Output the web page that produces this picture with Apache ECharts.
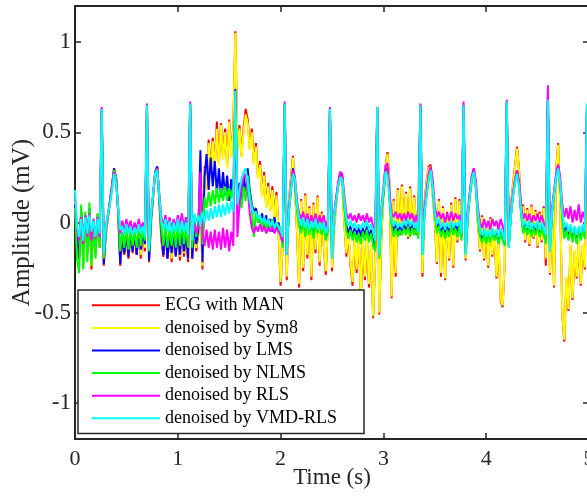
<!DOCTYPE html>
<html><head><meta charset="utf-8">
<script src="https://cdn.jsdelivr.net/npm/echarts@6/dist/echarts.min.js"></script>
<style>html,body{margin:0;padding:0;background:#fff}#chart{width:587px;height:496px}</style>
</head><body><div id="chart"></div>
<script>
// sampling interval of the recordings (s)
const sampleInterval = 0.02;

const seriesNames = ['ECG with MAN','denoised by Sym8','denoised by LMS','denoised by NLMS','denoised by RLS','denoised by VMD-RLS'];
const seriesColors = ['#ff0000','#ffff00','#0000ff','#00ff00','#ff00ff','#00ffff'];

// amplitude (mV), one value per sample, 0 s .. 5 s
const ecgWithMAN = [
0.13,-0.12,-0.20,0.06,-0.24,0.03,-0.17,0.07,-0.26,-0.03,
-0.18,0.05,-0.14,0.62,-0.24,-0.07,0.02,0.12,0.21,0.30,
0.25,0.05,-0.24,-0.09,-0.18,-0.05,-0.20,-0.07,-0.17,-0.04,
-0.18,-0.05,-0.20,-0.06,-0.16,0.64,-0.22,0.00,0.14,0.28,
0.31,0.12,-0.10,-0.19,-0.03,-0.20,-0.06,-0.22,-0.04,-0.18,
-0.05,-0.21,-0.03,-0.19,-0.06,-0.22,0.66,-0.20,-0.03,-0.16,
-0.06,0.13,-0.26,0.31,0.19,0.46,0.29,0.47,0.31,0.56,
0.33,0.55,0.36,0.52,0.31,0.57,0.37,0.54,1.06,0.41,
0.54,0.37,0.52,0.63,0.57,0.41,0.52,0.33,0.44,0.25,
0.34,0.15,0.28,0.09,0.22,0.07,0.20,0.03,0.17,-0.05,
-0.35,-0.13,0.66,-0.32,0.11,0.24,0.37,0.21,-0.06,-0.36,
0.13,-0.27,0.16,-0.20,0.09,-0.32,0.11,-0.17,0.15,-0.24,
0.06,-0.13,-0.29,0.00,0.62,-0.27,-0.03,0.10,0.21,0.28,
0.23,0.00,-0.19,-0.06,-0.24,-0.35,-0.09,-0.28,-0.07,-0.42,
-0.11,-0.32,-0.09,-0.36,-0.13,-0.53,-0.21,0.62,-0.51,-0.09,
0.16,0.31,0.39,0.21,-0.42,0.13,-0.30,0.19,-0.07,0.21,
-0.05,0.17,-0.09,0.20,-0.03,0.15,-0.07,0.11,0.63,-0.30,
0.11,0.23,0.31,0.32,0.15,0.01,-0.23,0.13,-0.30,0.09,
-0.32,0.06,-0.21,0.11,-0.25,0.14,-0.11,0.13,-0.06,0.64,
-0.21,0.02,0.15,0.25,0.30,0.19,-0.01,-0.16,0.04,-0.21,
-0.03,-0.25,0.03,-0.19,-0.05,-0.31,-0.11,-0.43,-0.47,-0.23,
0.66,-0.13,0.09,0.21,0.31,0.42,0.29,0.06,0.10,-0.11,
0.08,-0.13,0.10,-0.09,0.07,-0.14,0.06,-0.11,0.09,-0.24,
0.66,-0.29,0.06,-0.36,0.29,0.44,0.11,-0.51,-0.66,-0.31,
-0.49,-0.13,-0.43,-0.16,-0.31,-0.11,-0.35,-0.13,-0.26,0.60,
0.15];

const denoisedSym8 = [
0.12,-0.10,-0.18,0.05,-0.22,0.02,-0.15,0.06,-0.24,-0.02,
-0.16,0.04,-0.12,0.62,-0.22,-0.06,0.02,0.12,0.20,0.29,
0.24,0.05,-0.22,-0.08,-0.16,-0.04,-0.18,-0.06,-0.15,-0.03,
-0.16,-0.04,-0.18,-0.05,-0.14,0.64,-0.20,0.00,0.14,0.27,
0.30,0.12,-0.08,-0.17,-0.02,-0.18,-0.05,-0.20,-0.03,-0.16,
-0.04,-0.19,-0.02,-0.17,-0.05,-0.20,0.66,-0.18,-0.02,-0.14,
-0.05,0.12,-0.24,0.30,0.18,0.44,0.28,0.45,0.30,0.52,
0.32,0.54,0.35,0.50,0.30,0.56,0.36,0.52,1.05,0.40,
0.52,0.36,0.50,0.60,0.55,0.40,0.50,0.32,0.42,0.24,
0.32,0.14,0.26,0.08,0.20,0.06,0.18,0.02,0.15,-0.04,
-0.33,-0.12,0.66,-0.30,0.10,0.22,0.36,0.20,-0.05,-0.34,
0.12,-0.25,0.15,-0.18,0.08,-0.30,0.10,-0.15,0.14,-0.22,
0.05,-0.12,-0.27,0.00,0.62,-0.25,-0.02,0.10,0.20,0.27,
0.22,0.00,-0.17,-0.05,-0.22,-0.33,-0.08,-0.26,-0.06,-0.41,
-0.10,-0.30,-0.08,-0.34,-0.12,-0.52,-0.20,0.62,-0.50,-0.08,
0.15,0.30,0.38,0.20,-0.41,0.12,-0.28,0.18,-0.06,0.20,
-0.04,0.16,-0.08,0.19,-0.02,0.14,-0.06,0.10,0.63,-0.28,
0.10,0.22,0.30,0.31,0.14,0.02,-0.22,0.12,-0.28,0.08,
-0.31,0.05,-0.20,0.10,-0.24,0.13,-0.10,0.12,-0.05,0.64,
-0.20,0.02,0.14,0.24,0.29,0.18,0.00,-0.15,0.03,-0.20,
-0.02,-0.24,0.02,-0.18,-0.04,-0.30,-0.10,-0.42,-0.46,-0.22,
0.66,-0.12,0.08,0.20,0.30,0.41,0.28,0.05,0.09,-0.10,
0.07,-0.12,0.09,-0.08,0.06,-0.13,0.05,-0.10,0.08,-0.20,
0.66,-0.28,0.05,-0.35,0.28,0.43,0.10,-0.50,-0.65,-0.30,
-0.48,-0.12,-0.42,-0.15,-0.30,-0.10,-0.34,-0.12,-0.25,0.60,
0.15];

const denoisedLMS = [
0.10,-0.08,-0.20,0.06,-0.16,0.04,-0.12,0.08,-0.20,0.00,
-0.14,0.03,-0.10,0.63,-0.23,-0.04,0.04,0.12,0.20,0.30,
0.24,0.06,-0.23,-0.06,-0.17,-0.05,-0.19,-0.04,-0.16,-0.06,
-0.18,-0.03,-0.15,-0.06,-0.12,0.65,-0.21,0.02,0.15,0.28,
0.31,0.13,-0.06,-0.18,-0.03,-0.20,-0.06,-0.17,-0.04,-0.19,
-0.05,-0.18,-0.03,-0.16,-0.06,-0.20,0.66,-0.20,0.00,-0.12,
-0.04,0.40,-0.22,0.25,0.38,0.18,0.36,0.20,0.34,0.16,
0.30,0.14,0.28,0.15,0.26,0.12,0.24,0.14,0.74,0.10,
0.22,0.10,0.26,0.14,0.30,0.18,0.10,0.06,0.08,0.02,
0.00,0.05,-0.02,0.04,-0.04,0.02,-0.05,0.03,-0.03,0.00,
-0.06,-0.12,0.66,-0.18,0.06,0.18,0.30,0.22,0.08,0.00,
-0.04,0.04,-0.06,0.02,-0.05,0.03,-0.07,0.01,-0.04,0.02,
-0.06,0.00,-0.08,-0.04,0.63,-0.18,0.03,0.13,0.21,0.27,
0.25,0.10,-0.02,-0.06,-0.02,-0.08,-0.03,-0.07,-0.02,-0.08,
-0.03,-0.07,-0.02,-0.08,-0.04,-0.10,-0.14,0.64,-0.18,0.04,
0.16,0.28,0.30,0.14,0.00,-0.05,-0.01,-0.06,-0.02,-0.05,
-0.01,-0.04,0.00,-0.05,-0.01,-0.04,0.00,-0.06,0.65,-0.16,
0.06,0.16,0.25,0.30,0.20,0.05,-0.03,0.00,-0.05,-0.02,
-0.06,-0.02,-0.05,0.00,-0.04,-0.01,-0.05,0.00,-0.08,0.65,
-0.16,0.04,0.15,0.24,0.29,0.20,0.04,-0.06,-0.09,-0.04,
-0.10,-0.05,-0.09,-0.04,-0.08,-0.05,-0.10,-0.04,-0.08,-0.12,
0.67,-0.13,0.04,0.15,0.23,0.29,0.21,0.05,-0.04,0.00,
-0.05,0.00,-0.06,-0.01,-0.05,0.00,-0.06,-0.01,-0.05,-0.10,
0.70,-0.14,0.05,0.16,0.26,0.32,0.22,0.04,-0.06,-0.02,
-0.07,-0.02,-0.08,-0.03,-0.09,-0.03,-0.08,-0.02,-0.06,0.65,
0.15];

const denoisedNLMS = [
0.08,-0.20,-0.28,0.10,-0.26,0.06,-0.22,0.11,-0.24,0.02,
-0.20,0.05,-0.14,0.63,-0.20,-0.05,0.03,0.11,0.19,0.29,
0.25,0.07,-0.16,-0.05,-0.14,-0.03,-0.15,-0.04,-0.13,-0.05,
-0.14,-0.02,-0.13,-0.04,-0.10,0.65,-0.16,0.03,0.15,0.28,
0.30,0.14,-0.03,-0.13,-0.01,-0.14,-0.04,-0.13,-0.02,-0.14,
-0.02,-0.13,0.00,-0.12,-0.03,-0.14,0.66,-0.14,0.03,-0.08,
0.02,0.18,-0.12,0.14,0.08,0.17,0.09,0.18,0.10,0.19,
0.11,0.19,0.12,0.20,0.12,0.19,0.13,0.20,0.72,0.12,
0.16,0.08,0.20,0.12,0.26,0.16,0.08,-0.08,0.06,0.00,
0.02,-0.04,0.03,-0.06,0.01,-0.03,0.02,-0.05,0.00,-0.03,
-0.06,-0.14,0.66,-0.16,0.05,0.17,0.28,0.22,0.06,-0.02,
-0.06,0.02,-0.08,0.01,-0.07,0.00,-0.09,-0.01,-0.06,0.01,
-0.07,-0.02,-0.10,-0.05,0.63,-0.20,0.02,0.12,0.20,0.26,
0.24,0.08,-0.05,-0.09,-0.04,-0.10,-0.05,-0.11,-0.06,-0.12,
-0.05,-0.10,-0.04,-0.11,-0.06,-0.13,-0.16,0.64,-0.20,0.03,
0.15,0.27,0.29,0.12,-0.02,-0.08,-0.03,-0.08,-0.04,-0.07,
-0.03,-0.07,-0.02,-0.08,-0.03,-0.07,-0.02,-0.09,0.65,-0.18,
0.05,0.15,0.24,0.29,0.19,0.04,-0.06,-0.02,-0.08,-0.04,
-0.09,-0.04,-0.08,-0.02,-0.07,-0.03,-0.08,-0.02,-0.10,0.65,
-0.17,0.03,0.14,0.23,0.28,0.19,0.03,-0.08,-0.11,-0.06,
-0.12,-0.06,-0.11,-0.05,-0.10,-0.07,-0.12,-0.06,-0.10,-0.13,
0.67,-0.14,0.03,0.14,0.22,0.28,0.21,0.04,-0.06,-0.02,
-0.07,-0.02,-0.08,-0.03,-0.07,-0.02,-0.08,-0.03,-0.07,-0.12,
0.69,-0.16,0.04,0.15,0.25,0.31,0.21,0.02,-0.09,-0.04,
-0.10,-0.04,-0.11,-0.05,-0.12,-0.05,-0.10,-0.04,-0.09,0.65,
0.15];

const denoisedRLS = [
0.15,-0.04,-0.10,0.03,-0.12,0.04,-0.08,0.05,-0.10,0.02,
-0.09,0.03,-0.08,0.64,-0.16,-0.03,0.04,0.11,0.19,0.28,
0.23,0.09,-0.06,0.01,-0.05,0.02,-0.04,0.01,-0.05,0.00,
-0.04,0.02,-0.04,0.00,-0.06,0.66,-0.12,0.05,0.16,0.27,
0.30,0.16,0.03,-0.02,0.04,-0.03,0.03,-0.04,0.02,-0.03,
0.04,-0.02,0.05,-0.03,0.03,-0.05,0.67,-0.08,0.00,-0.06,
-0.02,0.28,-0.06,-0.13,-0.04,-0.14,-0.05,-0.15,-0.04,-0.14,
-0.05,-0.15,-0.03,-0.14,-0.04,-0.16,-0.05,-0.13,0.72,-0.08,
0.10,0.20,0.25,0.27,0.18,0.05,-0.03,-0.06,-0.02,-0.05,
-0.01,-0.05,-0.02,-0.06,-0.03,-0.05,-0.02,-0.06,-0.03,-0.05,
-0.07,-0.11,0.67,-0.14,0.06,0.19,0.29,0.25,0.12,0.05,
0.02,0.06,0.00,0.05,-0.01,0.04,0.00,0.05,-0.01,0.04,
0.00,0.04,-0.03,0.02,0.64,-0.14,0.05,0.14,0.22,0.28,
0.27,0.15,0.05,0.02,0.05,0.01,0.04,0.00,0.05,0.01,
0.04,0.00,0.05,0.00,0.03,-0.02,-0.04,0.64,-0.12,0.08,
0.20,0.31,0.33,0.16,0.05,0.03,0.06,0.02,0.05,0.01,
0.05,0.01,0.06,0.02,0.05,0.00,0.04,-0.02,0.66,-0.08,
0.08,0.18,0.27,0.31,0.24,0.09,0.03,0.06,0.02,0.05,
0.00,0.05,0.01,0.06,0.01,0.05,0.02,0.04,-0.03,0.67,
-0.08,0.06,0.17,0.26,0.30,0.23,0.08,0.00,-0.03,0.02,
-0.03,0.01,-0.04,0.02,-0.02,0.01,-0.04,0.02,-0.02,-0.06,
0.68,-0.06,0.06,0.16,0.24,0.29,0.23,0.09,0.02,0.05,
0.01,0.05,0.00,0.04,0.01,0.05,0.00,0.04,0.00,-0.03,
0.76,-0.06,0.08,0.18,0.27,0.32,0.25,0.10,0.03,0.08,
0.02,0.09,0.00,0.07,0.01,0.10,0.00,0.06,0.02,0.62,
0.15];

const denoisedVMDRLS = [
0.18,-0.02,-0.08,0.02,-0.10,0.03,-0.06,0.04,-0.05,0.01,
-0.08,0.02,-0.06,0.63,-0.17,-0.02,0.05,0.10,0.18,0.27,
0.22,0.08,-0.04,-0.02,-0.07,-0.01,-0.06,-0.02,-0.07,-0.03,
-0.06,-0.01,-0.06,-0.02,-0.08,0.65,-0.15,0.05,0.16,0.27,
0.29,0.15,0.01,-0.04,0.02,-0.05,0.01,-0.06,0.00,-0.05,
0.02,-0.06,0.01,-0.05,0.00,-0.07,0.66,-0.10,0.05,0.00,
0.04,-0.02,0.06,0.00,0.07,0.01,0.08,0.02,0.09,0.03,
0.10,0.03,0.10,0.04,0.11,0.05,0.12,0.06,0.73,0.10,
0.18,0.24,0.28,0.30,0.22,0.12,0.08,0.05,0.06,0.02,
0.04,0.00,0.03,-0.01,0.02,-0.02,0.01,-0.03,0.00,-0.02,
-0.04,-0.08,0.66,-0.18,0.05,0.18,0.27,0.24,0.10,0.02,
-0.02,0.03,-0.03,0.02,-0.04,0.01,-0.03,0.02,-0.04,0.00,
-0.04,0.00,-0.06,-0.02,0.63,-0.20,0.04,0.12,0.20,0.25,
0.24,0.12,0.02,-0.02,0.01,-0.03,0.00,-0.04,-0.01,-0.04,
0.00,-0.03,0.01,-0.04,-0.01,-0.05,-0.10,0.64,-0.18,0.06,
0.18,0.28,0.26,0.12,0.02,-0.02,0.01,-0.03,0.00,-0.03,
0.01,-0.02,0.02,-0.02,0.01,-0.03,0.00,-0.05,0.65,-0.18,
0.05,0.15,0.24,0.29,0.20,0.06,-0.01,0.02,-0.03,0.00,
-0.04,0.00,-0.03,0.01,-0.03,0.00,-0.02,0.01,-0.06,0.65,
-0.18,0.04,0.15,0.24,0.28,0.20,0.05,-0.04,-0.07,-0.03,
-0.08,-0.04,-0.08,-0.03,-0.07,-0.04,-0.08,-0.03,-0.06,-0.10,
0.67,-0.14,0.04,0.14,0.22,0.27,0.20,0.06,-0.02,0.01,
-0.03,0.01,-0.04,0.00,-0.03,0.01,-0.04,0.00,-0.04,-0.07,
0.68,-0.16,0.06,0.16,0.25,0.30,0.22,0.06,-0.03,0.00,
-0.05,-0.01,-0.06,-0.02,-0.07,-0.02,-0.06,-0.01,-0.05,0.66,
0.15];

const xTickValues = [0,1,2,3,4,5];
const yTickValues = [-1,-0.5,0,0.5,1];

const allValues = [ecgWithMAN, denoisedSym8, denoisedLMS, denoisedNLMS, denoisedRLS, denoisedVMDRLS];

function toPairs(values){
  return values.map((v,i)=>[Math.round(i*sampleInterval*100)/100, v]);
}

const font = "'Liberation Serif','Times New Roman',serif";
const axisColor = '#262626';
const frameLine = {show:true,onZero:false,lineStyle:{color:axisColor,width:2}};
const inTick = (vals)=>({show:true,inside:true,length:6,lineStyle:{color:axisColor,width:1.5},customValues:vals});

const chart = echarts.init(document.getElementById('chart'), null, {renderer:'canvas'});
chart.setOption({
  animation:false,
  backgroundColor:'#ffffff',
  grid:{left:75,right:-2,top:6,bottom:57,containLabel:false,outerBoundsMode:'none'},
  xAxis:[{
    type:'value',min:0,max:5,position:'bottom',
    axisLine:frameLine,axisTick:inTick(xTickValues),
    axisLabel:{customValues:xTickValues,color:axisColor,fontSize:22,fontFamily:font,margin:9},
    splitLine:{show:false},
    name:'Time (s)',nameLocation:'middle',nameGap:27,nameMoveOverlap:false,
    nameTextStyle:{fontSize:23,fontFamily:font,color:axisColor}
  },{
    type:'value',min:0,max:5,position:'top',
    axisLine:frameLine,axisTick:inTick(xTickValues),
    axisLabel:{show:false},splitLine:{show:false}
  }],
  yAxis:[{
    type:'value',min:-1.2,max:1.2,position:'left',
    axisLine:frameLine,axisTick:inTick(yTickValues),
    axisLabel:{customValues:yTickValues,color:axisColor,fontSize:23,fontFamily:font,margin:4},
    splitLine:{show:false},
    name:'Amplitude (mV)',nameLocation:'middle',nameGap:40,nameRotate:90,nameMoveOverlap:false,
    nameTextStyle:{fontSize:25,fontFamily:font,color:axisColor}
  },{
    type:'value',min:-1.2,max:1.2,position:'right',
    axisLine:frameLine,axisTick:inTick(yTickValues),
    axisLabel:{show:false},splitLine:{show:false}
  }],
  legend:{
    show:true,orient:'vertical',left:78,top:290,
    data:seriesNames,
    icon:'rect',itemWidth:68,itemHeight:2,itemGap:0,
    padding:[4,27,4,14],
    backgroundColor:'#ffffff',borderColor:axisColor,borderWidth:1.5,
    textStyle:{fontSize:18,fontFamily:font,color:'#000',lineHeight:22.6},
    selectedMode:false
  },
  series: allValues.map((vals,k)=>({
    name:seriesNames[k],type:'line',data:toPairs(vals),
    showSymbol:false,symbol:'none',
    lineStyle:{color:seriesColors[k],width:2},
    itemStyle:{color:seriesColors[k]},
    silent:true
  }))
});
</script>
</body></html>
